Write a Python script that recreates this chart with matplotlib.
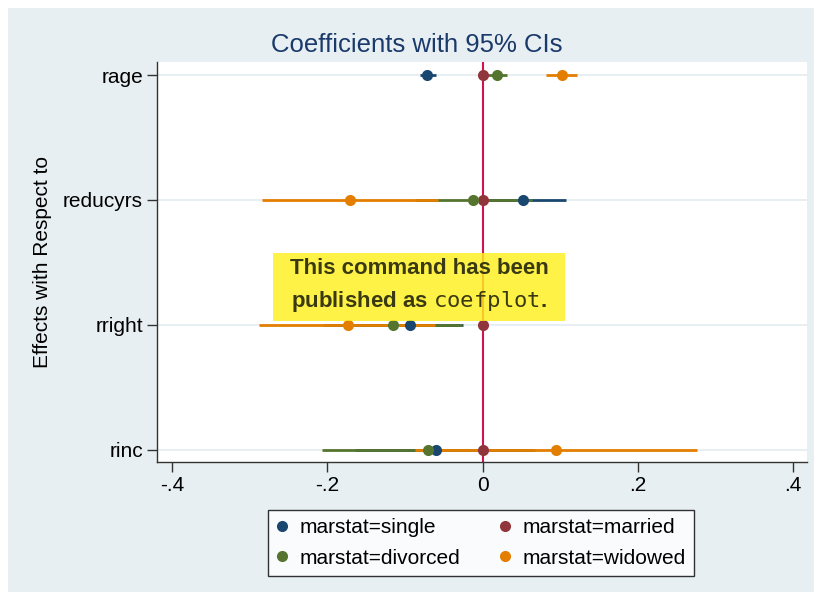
import numpy as np
import matplotlib
matplotlib.use('Agg')
import matplotlib.pyplot as plt
from matplotlib.patches import Rectangle
from matplotlib.lines import Line2D

plt.rcParams['font.family'] = ['Liberation Sans', 'DejaVu Sans']

# coefficients and 95% CIs
variables  = ['rage', 'reducyrs', 'rright', 'rinc']
groups     = ['marstat=single', 'marstat=married', 'marstat=divorced', 'marstat=widowed']

single_b   = [-0.071,  0.052, -0.093, -0.060]
single_lo  = [-0.081, -0.003, -0.165, -0.164]
single_hi  = [-0.060,  0.108, -0.025,  0.065]

married_b  = [0.0, 0.0, 0.0, 0.0]
married_lo = [0.0, 0.0, 0.0, 0.0]
married_hi = [0.0, 0.0, 0.0, 0.0]

divorced_b  = [ 0.019, -0.012, -0.115, -0.070]
divorced_lo = [ 0.006, -0.087, -0.205, -0.207]
divorced_hi = [ 0.032,  0.064, -0.026,  0.068]

widowed_b  = [ 0.102, -0.171, -0.173,  0.095]
widowed_lo = [ 0.082, -0.284, -0.288, -0.087]
widowed_hi = [ 0.122, -0.057, -0.061,  0.276]

xticks      = [-0.4, -0.2, 0, 0.2, 0.4]
xticklabels = ['-.4', '-.2', '0', '.2', '.4']

colors = ['#1a476f', '#90353b', '#55752f', '#e37e00']
series = [(single_b, single_lo, single_hi),
          (married_b, married_lo, married_hi),
          (divorced_b, divorced_lo, divorced_hi),
          (widowed_b, widowed_lo, widowed_hi)]

fig = plt.figure(figsize=(8.22, 6.0), dpi=100, facecolor='white')
# bluish-gray graph region
fig.patches.append(Rectangle((8/822, 8/600), 806/822, 584/600, transform=fig.transFigure,
                             facecolor='#e8eff2', edgecolor='none', zorder=-10))

ax = fig.add_axes([157/822, 1-462/600, 650/822, 400/600])
ax.set_facecolor('white')

ypos = np.arange(1, len(variables)+1)
for y in ypos:
    ax.axhline(y, color='#e6eef1', lw=1.3, zorder=0)

ax.axvline(0, color='#cf1450', lw=1.5, zorder=1)

for (b, lo, hi), c in zip(series, colors):
    ax.hlines(ypos, lo, hi, color=c, lw=2, zorder=2)
    ax.plot(b, ypos, 'o', color=c, ms=8, mec='none', zorder=3)

ax.set_xlim(-0.4195, 0.418)
ax.set_ylim(4.1, 0.895)
ax.set_yticks(ypos)
ax.set_yticklabels(variables, fontsize=15)
ax.set_xticks(xticks)
ax.set_xticklabels(xticklabels, fontsize=15)
ax.tick_params(axis='both', direction='out', length=7, width=1, color='#333333', pad=3)
for s in ['top', 'right']:
    ax.spines[s].set_visible(False)
for s in ['left', 'bottom']:
    ax.spines[s].set_color('#333333')
    ax.spines[s].set_linewidth(1)

fig.text(42/822, 1-262/600, 'Effects with Respect to', fontsize=15, rotation=90,
         ha='center', va='center')
fig.text(417/822, 1-45/600, 'Coefficients with 95% CIs', fontsize=18.5, color='#1a3a6b',
         ha='center', va='center')

# yellow note box
fig.patches.append(Rectangle((273/822, 1-321/600), 292/822, 68/600, transform=fig.transFigure,
                             facecolor='#fff01e', alpha=0.82, edgecolor='none', zorder=5))
fig.text(419/822, 1-269/600, 'This command has been', fontsize=16, fontweight='bold',
         color='#3a3a12', ha='center', va='center', zorder=6)
fig.text(419/822, 1-301/600, r'published as $\mathtt{coefplot}$.', fontsize=16, fontweight='bold',
         color='#3a3a12', ha='center', va='center', zorder=6)

handles = [Line2D([], [], ls='none', marker='o', ms=8, mec='none', color=c) for c in colors]
leg = fig.legend([handles[0], handles[2], handles[1], handles[3]],
                 [groups[0], groups[2], groups[1], groups[3]],
                 ncol=2, loc='center', bbox_to_anchor=(481/822, 1-543/600), fontsize=15,
                 frameon=True, fancybox=False, edgecolor='black', handlelength=0.5,
                 handletextpad=0.6, columnspacing=1.9, borderpad=0.4, labelspacing=0.55)
leg.get_frame().set_linewidth(1)

fig.savefig('out.png', dpi=100, facecolor='white')
